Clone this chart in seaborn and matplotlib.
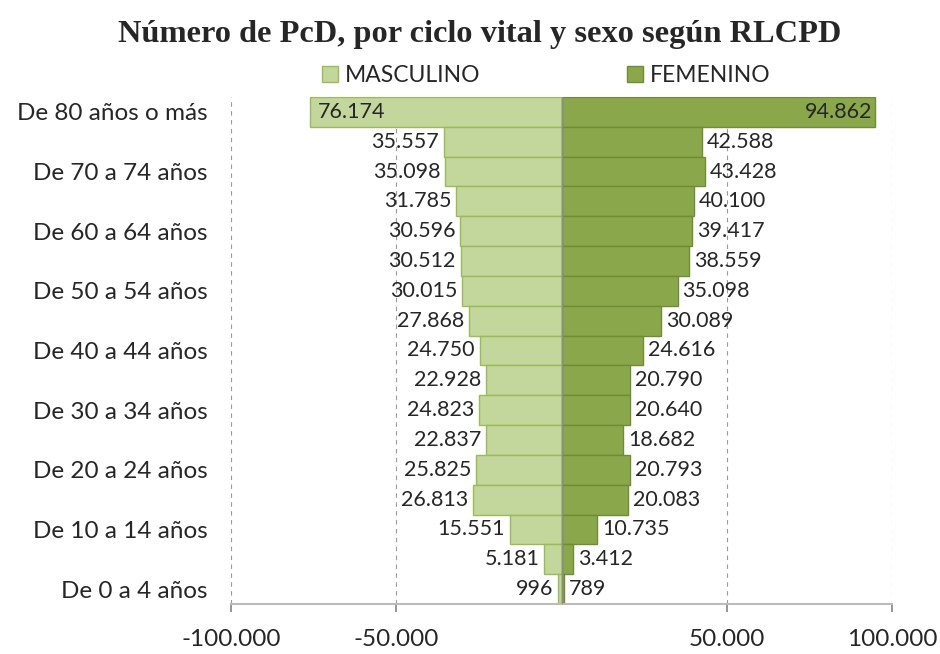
import numpy as np
import pandas as pd
import matplotlib
matplotlib.use("Agg")
import matplotlib.pyplot as plt
from matplotlib.patches import Patch
import seaborn as sns

# age groups, top to bottom
grupos = [
    "De 80 años o más", "De 75 a 79 años", "De 70 a 74 años", "De 65 a 69 años",
    "De 60 a 64 años", "De 55 a 59 años", "De 50 a 54 años", "De 45 a 49 años",
    "De 40 a 44 años", "De 35 a 39 años", "De 30 a 34 años", "De 25 a 29 años",
    "De 20 a 24 años", "De 15 a 19 años", "De 10 a 14 años", "De 5 a 9 años",
    "De 0 a 4 años",
]
masculino = [76174, 35557, 35098, 31785, 30596, 30512, 30015, 27868,
             24750, 22928, 24823, 22837, 25825, 26813, 15551, 5181, 996]
femenino = [94862, 42588, 43428, 40100, 39417, 38559, 35098, 30089,
            24616, 20790, 20640, 18682, 20793, 20083, 10735, 3412, 789]
xticks = [-100000, -50000, 50000, 100000]

C_MASC, E_MASC = "#C3D69B", "#9BBB59"
C_FEM, E_FEM = "#8AA84B", "#6F8B35"

sns.set_theme(style="white")
plt.rcParams["font.family"] = ["Lato", "DejaVu Sans"]


def miles(v):
    return f"{abs(int(v)):,}".replace(",", ".")


df = pd.DataFrame({
    "grupo": grupos * 2,
    "valor": [-m for m in masculino] + femenino,
    "sexo": ["MASCULINO"] * len(grupos) + ["FEMENINO"] * len(grupos),
})

fig = plt.figure(figsize=(9.4, 6.54), dpi=100)
ax = fig.add_axes([0.2457, 0.0765, 0.7033, 0.7752])

sns.barplot(data=df, x="valor", y="grupo", hue="sexo", order=grupos,
            hue_order=["MASCULINO", "FEMENINO"], palette=[C_MASC, C_FEM],
            saturation=1, dodge=False, width=1.0, orient="h", legend=False, ax=ax)

for cont, ec in zip(ax.containers, [E_MASC, E_FEM]):
    for p in cont:
        p.set_edgecolor(ec)
        p.set_linewidth(1.0)

# data labels
lbl = dict(va="center", fontsize=15.5, color="#262626")
for i, (m, f) in enumerate(zip(masculino, femenino)):
    if i == 0:
        ax.text(-m + 2500, i, miles(m), ha="left", **lbl)
        ax.text(f - 1000, i, miles(f), ha="right", **lbl)
    else:
        ax.text(-m - 1500, i, miles(m), ha="right", **lbl)
        ax.text(f + 1500, i, miles(f), ha="left", **lbl)

ax.set_xlim(-100000, 100000)
ax.set_ylim(len(grupos) - 0.5, -0.5)
ax.set_xticks(xticks)
ax.set_xticklabels([("-" if t < 0 else "") + miles(t) for t in xticks], fontsize=17.5)
ax.set_yticks(range(len(grupos)))
ax.set_yticklabels([g if i % 2 == 0 else "" for i, g in enumerate(grupos)], fontsize=17.5)
ax.set_xlabel("")
ax.set_ylabel("")
ax.tick_params(axis="y", length=0, pad=17, colors="#262626")
ax.tick_params(axis="x", length=6, color="#888888", direction="out", pad=12, bottom=True,
               labelcolor="#262626")

for t in xticks:
    ax.axvline(t, color="#999999", lw=0.8, ls=(0, (4, 4)), zorder=0)
ax.axvline(0, color="#8C8C8C", lw=1.0, zorder=3)

for s in ["top", "right", "left"]:
    ax.spines[s].set_visible(False)
ax.spines["bottom"].set_color("#BBBBBB")
ax.spines["bottom"].set_linewidth(1.5)

handles = [Patch(facecolor=C_MASC, edgecolor=E_MASC, label="MASCULINO"),
           Patch(facecolor=C_FEM, edgecolor=E_FEM, label="FEMENINO")]
fig.legend(handles=handles, loc="center", bbox_to_anchor=(0.581, 0.885), ncol=2,
           frameon=False, fontsize=16.5, handlelength=0.7, handleheight=0.7,
           handletextpad=0.3, columnspacing=6.4, labelcolor="#262626")

fig.suptitle("Número de PcD, por ciclo vital y sexo según RLCPD",
             fontsize=23.3, fontweight="bold", family="Liberation Serif", y=0.97, x=0.51)

fig.savefig("out.png", dpi=100)
